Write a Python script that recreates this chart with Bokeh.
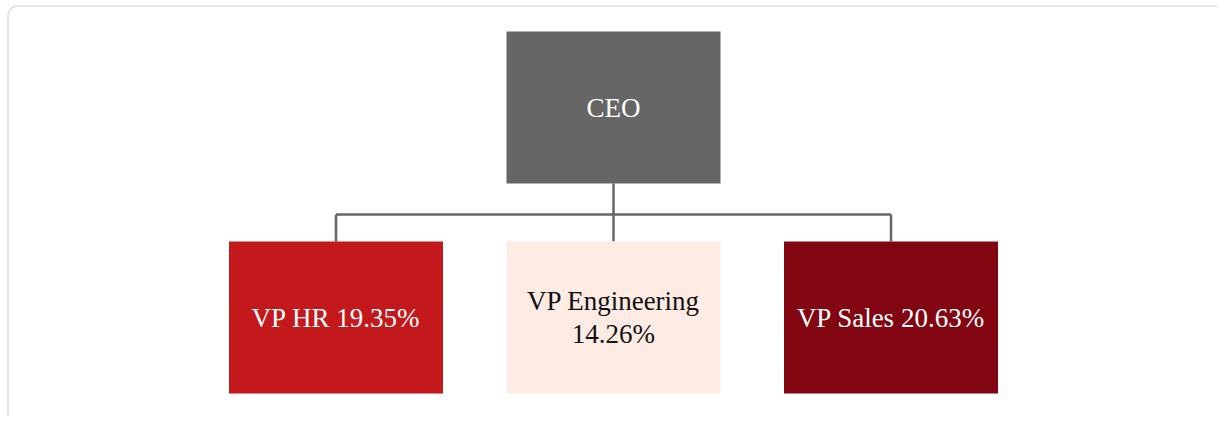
import math
from bokeh.plotting import figure
from bokeh.models import Range1d, ColumnDataSource
from bokeh.core.properties import value
from bokeh.embed import file_html
from bokeh.resources import INLINE

# ---- data ----
names = ["CEO", "VP HR", "VP Engineering", "VP Sales"]
parents = [None, "CEO", "CEO", "CEO"]
shares = [None, 19.35, 14.26, 20.63]
fill_colors = ["#666666", "#c4191c", "#fdebe4", "#810611"]
text_colors = ["#ffffff", "#ffffff", "#111111", "#ffffff"]

# ---- layout constants (pixels) ----
W, H = 1217, 416
BOX_W, BOX_H = 214, 152
ROOT_CX, ROOT_CY = 613, 107
CHILD_CY = 317
CHILD_GAP = 277.5
BUS_Y = 214

p = figure(width=W, height=H, output_backend="svg", toolbar_location=None,
           x_range=Range1d(0, W), y_range=Range1d(H, 0), min_border=0)
p.axis.visible = False
p.grid.visible = False
p.outline_line_color = None
p.background_fill_color = "white"
p.border_fill_color = "white"

# card frame (top & left edges with rounded corner)
FX, FY, R = 7.5, 5.5, 10
cx, cy = FX + R, FY + R
fx = [FX, FX] + [cx - R * math.cos(t * math.pi / 40) for t in range(21)] + [W]
fy = [H, cy] + [cy - R * math.sin(t * math.pi / 40) for t in range(21)] + [FY]
p.line(fx, fy, line_color="#dddddd", line_width=1.5)

children = [n for n, par in zip(names, parents) if par == "CEO"]
k = len(children)
xs, ys, labels = [], [], []
for n, par, s in zip(names, parents, shares):
    if par is None:
        xs.append(ROOT_CX); ys.append(ROOT_CY)
        labels.append(n)
    else:
        i = children.index(n)
        xs.append(ROOT_CX + (i - (k - 1) / 2) * CHILD_GAP); ys.append(CHILD_CY)
        lab = f"{n} {s:.2f}%"
        if len(lab) > 18:
            lab = f"{n}\n{s:.2f}%"
        labels.append(lab)

src = ColumnDataSource(dict(x=xs, y=ys, label=labels, fill=fill_colors, tc=text_colors))

# connectors
child_xs = [x for x, par in zip(xs, parents) if par is not None]
lc = "#666666"
p.segment(x0=[ROOT_CX], y0=[ROOT_CY + BOX_H / 2], x1=[ROOT_CX], y1=[BUS_Y], line_color=lc, line_width=2.5)
p.segment(x0=[min(child_xs)], y0=[BUS_Y], x1=[max(child_xs)], y1=[BUS_Y], line_color=lc, line_width=2.5)
p.segment(x0=child_xs, y0=[BUS_Y] * k, x1=child_xs, y1=[CHILD_CY - BOX_H / 2] * k, line_color=lc, line_width=2.5)

p.rect(x="x", y="y", width=BOX_W, height=BOX_H, source=src, fill_color="fill", line_color=None)
p.text(x="x", y="y", text="label", source=src, text_color="tc", text_align="center",
       text_baseline="middle", text_font=value("Liberation Serif"), text_font_size="27px",
       text_line_height=1.1)

open("out.html", "w").write(file_html(p, INLINE))
